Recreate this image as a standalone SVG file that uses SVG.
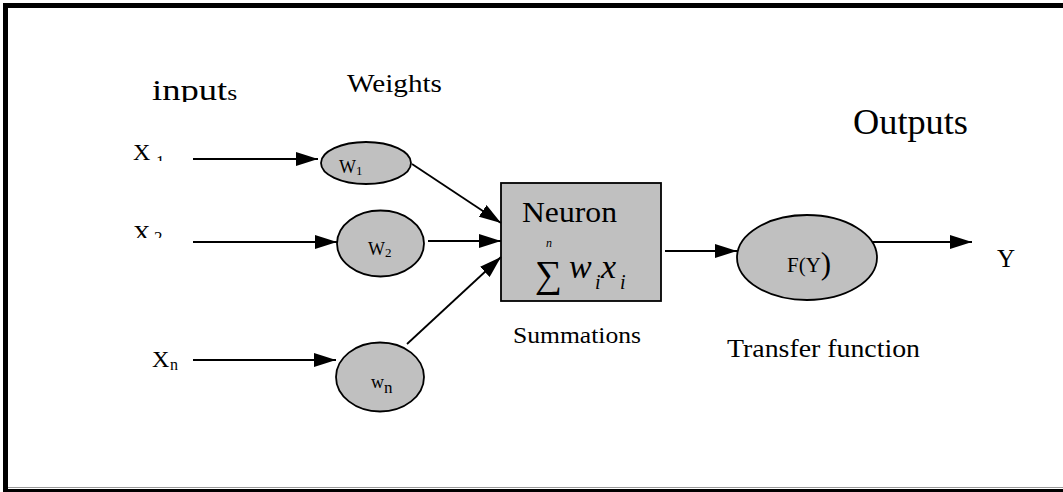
<svg xmlns="http://www.w3.org/2000/svg" width="1063" height="492" viewBox="0 0 1063 492">
<style>
text{font-family:"Liberation Serif","Times New Roman",serif;fill:#000}
.node{fill:#c0c0c0;stroke:#000;stroke-width:1.8}
.conn{stroke:#000;stroke-width:1.8;fill:none}
.arr{marker-end:url(#ah)}
.it{font-style:italic}
</style>
<defs>
<marker id="ah" markerWidth="22" markerHeight="14" refX="22" refY="7" orient="auto" markerUnits="userSpaceOnUse"><path d="M0,0 L22,7 L0,14 z" fill="#000"/></marker>
<clipPath id="clipIn"><rect x="140" y="60" width="120" height="42"/></clipPath>
<clipPath id="clipX1"><rect x="120" y="130" width="60" height="31"/></clipPath>
<clipPath id="clipX2"><rect x="120" y="210" width="60" height="28"/></clipPath>
</defs>
<rect width="1063" height="492" fill="#fff"/>
<g id="frame">
<rect x="3" y="3" width="1060" height="5" fill="#000"/>
<rect x="3" y="3" width="5" height="489" fill="#000"/>
<rect x="3" y="489" width="1060" height="3" fill="#000"/>
<line x1="8" y1="487.5" x2="1063" y2="487.5" stroke="#999" stroke-width="1"/>
</g>
<g id="labels">
<g clip-path="url(#clipIn)"><text transform="translate(152,100) scale(1.22,1)" font-size="30">input<tspan font-size="21">s</tspan></text></g>
<text x="347" y="92" font-size="26" textLength="95" lengthAdjust="spacingAndGlyphs">Weights</text>
<text x="853" y="134" font-size="36" textLength="115" lengthAdjust="spacingAndGlyphs">Outputs</text>
<text x="513" y="343" font-size="24" textLength="128" lengthAdjust="spacingAndGlyphs">Summations</text>
<text x="727" y="357" font-size="26" textLength="193" lengthAdjust="spacingAndGlyphs">Transfer function</text>
</g>
<g id="x1"><g clip-path="url(#clipX1)"><text x="133" y="160" font-size="24">X<tspan x="156" y="167" font-size="17">1</tspan></text></g></g>
<g id="x2"><g clip-path="url(#clipX2)"><text x="133" y="241" font-size="24">X<tspan x="154" y="243" font-size="17">2</tspan></text></g></g>
<g id="xn"><text x="152" y="367" font-size="24">X<tspan x="170" y="370" font-size="16">n</tspan></text></g>
<g id="w1"><ellipse class="node" cx="366" cy="163" rx="45" ry="21"/><text x="339" y="173" font-size="18">W<tspan font-size="13" dy="2">1</tspan></text></g>
<g id="w2"><ellipse class="node" cx="380.5" cy="243.5" rx="43.5" ry="33"/><text x="368" y="255" font-size="18">W<tspan font-size="13" dy="2">2</tspan></text></g>
<g id="wn"><ellipse class="node" cx="380" cy="377" rx="44" ry="34.5"/><text x="371" y="388" font-size="18">w<tspan font-size="17" dy="5">n</tspan></text></g>
<g id="neuron"><rect class="node" x="501" y="183" width="160" height="118"/>
<text x="522" y="222" font-size="30" textLength="95" lengthAdjust="spacingAndGlyphs">Neuron</text>
<text x="535" y="287" font-size="38">∑</text>
<text x="546" y="247" font-size="12" class="it">n</text>
<text x="569" y="278" font-size="34" class="it">w</text>
<text x="595" y="289" font-size="20" class="it">i</text>
<text x="601" y="278" font-size="34" class="it">x</text>
<text x="620" y="289" font-size="20" class="it">i</text>
</g>
<g id="transfer"><ellipse class="node" cx="807" cy="257.5" rx="70" ry="42.5"/><text x="787" y="272" font-size="21">F(Y<tspan font-size="31" dy="2">)</tspan></text></g>
<g id="output"><text x="997" y="267" font-size="25">Y</text></g>
<g id="connectors">
<line class="conn arr" x1="193" y1="159" x2="318" y2="159"/>
<line class="conn arr" x1="193" y1="242" x2="337" y2="242"/>
<line class="conn arr" x1="193" y1="360" x2="336" y2="360"/>
<line class="conn arr" x1="412" y1="164" x2="501" y2="223"/>
<line class="conn arr" x1="428" y1="241" x2="501" y2="241"/>
<line class="conn arr" x1="407" y1="344" x2="501" y2="257"/>
<line class="conn arr" x1="665" y1="251" x2="737" y2="251"/>
<line class="conn arr" x1="872" y1="242" x2="972" y2="242"/>
</g>
</svg>
